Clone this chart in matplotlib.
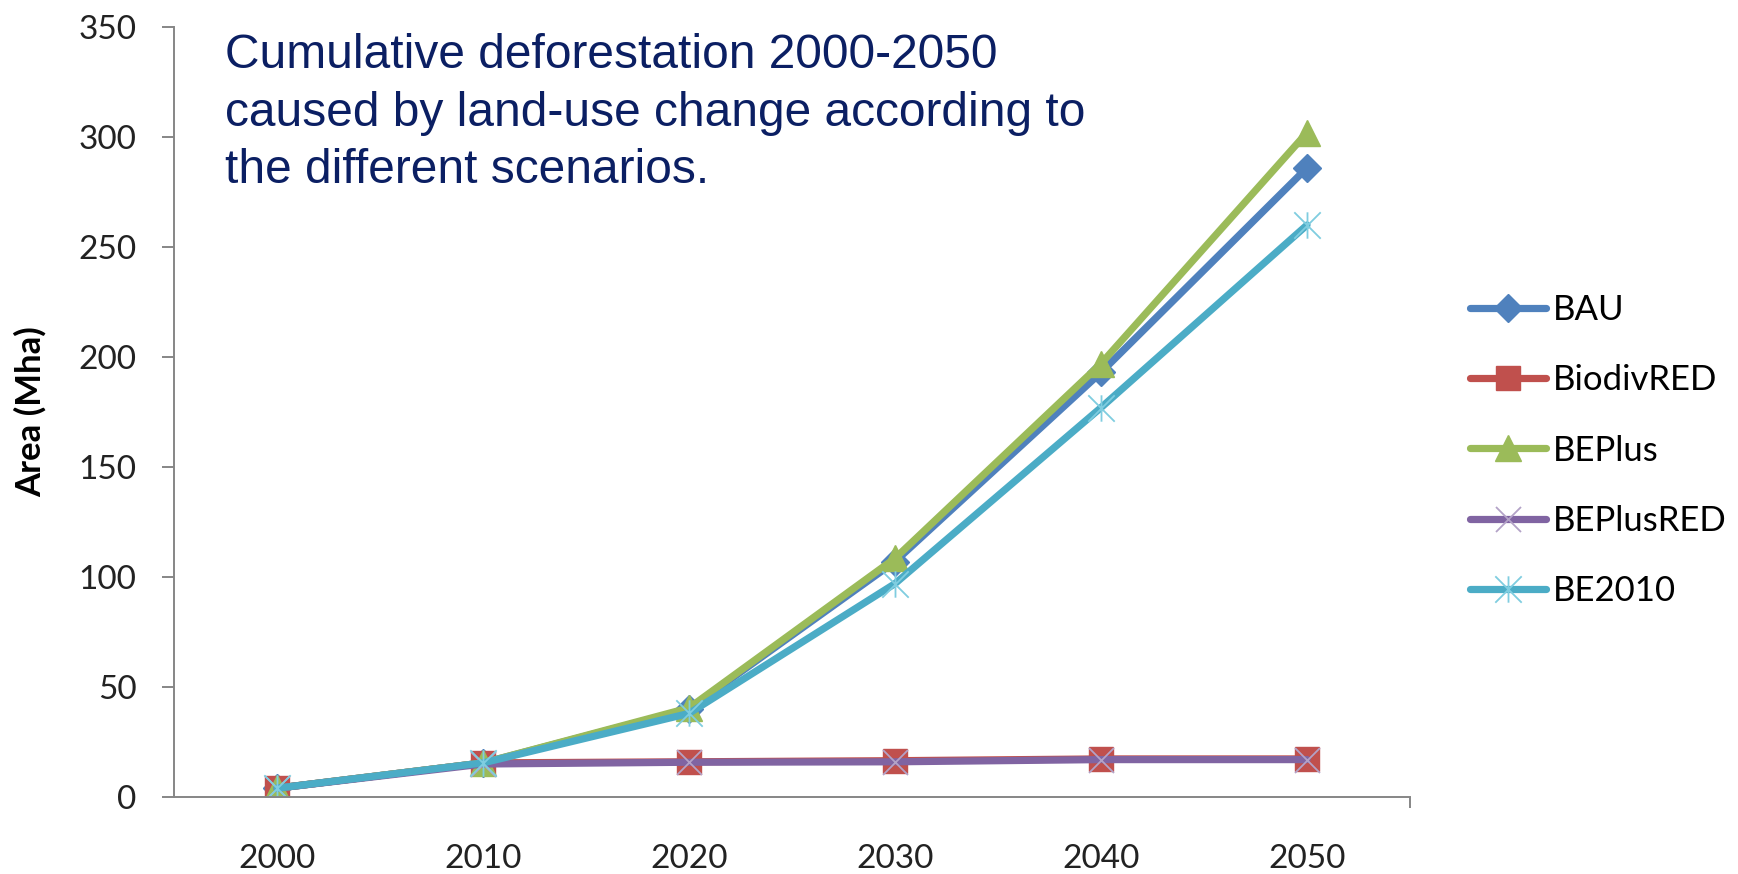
import matplotlib.pyplot as plt
from matplotlib.path import Path

# Cumulative deforestation (Mha) per scenario, 2000-2050
years = ["2000", "2010", "2020", "2030", "2040", "2050"]
bau = [4, 15.5, 40, 107, 193, 286]
biodiv_red = [4, 15.5, 16, 16.5, 17.3, 17.3]
beplus = [4, 15.5, 40.5, 108.5, 197, 302]
beplus_red = [4, 15, 15.8, 16, 17, 17]
be2010 = [4, 15.5, 38, 97, 177, 260]

yticks = [0, 50, 100, 150, 200, 250, 300, 350]

# Excel-style asterisk marker: an X with a vertical bar through it
star = Path([(0, -1), (0, 1), (-1, -1), (1, 1), (-1, 1), (1, -1)],
            [Path.MOVETO, Path.LINETO, Path.MOVETO, Path.LINETO,
             Path.MOVETO, Path.LINETO])

series = [
    ("BAU", bau, dict(color="#4F81BD", marker="D", markersize=14,
                      markeredgecolor="#4F81BD")),
    ("BiodivRED", biodiv_red, dict(color="#C0504D", marker="s", markersize=17,
                                   markeredgecolor="#C0504D")),
    ("BEPlus", beplus, dict(color="#9BBB59", marker="^", markersize=19,
                            markeredgecolor="#9BBB59")),
    ("BEPlusRED", beplus_red, dict(color="#8064A2", marker="x", markersize=18,
                                   markeredgecolor="#B3A2C7", markeredgewidth=1.3)),
    ("BE2010", be2010, dict(color="#4BACC6", marker=star, markersize=19,
                            markeredgecolor="#7FCDE0", markeredgewidth=1.3)),
]

fig = plt.figure(figsize=(17.38, 8.74), dpi=100)
ax = fig.add_axes([0.1001, 0.0881, 0.7112, 0.881])

x = list(range(len(years)))
for name, vals, style in series:
    ax.plot(x, vals, label=name, linewidth=5.2, solid_capstyle="round",
            solid_joinstyle="round", **style)

axis_color = "#868686"
ax.set_xlim(-0.5, 5.5)
ax.set_ylim(0, 350)
for side in ["top", "right"]:
    ax.spines[side].set_visible(False)
for side in ["left", "bottom"]:
    ax.spines[side].set_color(axis_color)
    ax.spines[side].set_linewidth(1.4)

ax.set_yticks(yticks)
ax.tick_params(axis="y", direction="out", length=9, width=1.4, color=axis_color,
               pad=18, labelsize=24)

# labels under each year, tick marks drawn separately
ax.set_xticks(x)
ax.set_xticklabels(years)
ax.tick_params(axis="x", which="major", length=0, pad=34, labelsize=24)
ax.set_xticks([1, 2, 3, 4, 5, 5.5], minor=True)
ax.tick_params(axis="x", which="minor", direction="out", length=8, width=1.4,
               color=axis_color)

for lbl in ax.get_xticklabels() + ax.get_yticklabels():
    lbl.set_family("Lato")
    lbl.set_color("#222222")

ax.set_ylabel("Area (Mha)", fontsize=25, fontweight="bold", family="Lato")
ax.yaxis.set_label_coords(-0.103, 0.5)

fig.text(0.1295, 0.962,
         "Cumulative deforestation 2000-2050\n"
         "caused by land-use change according to\n"
         "the different scenarios.",
         family="Liberation Sans", fontsize=34.5, color="#0B1F63",
         ha="left", va="top", linespacing=1.36)

ax.legend(loc="center left", bbox_to_anchor=(0.8458, 0.4845),
          bbox_transform=fig.transFigure, frameon=False, borderpad=0,
          borderaxespad=0, handlelength=2.2, handletextpad=0.2,
          labelspacing=1.1, prop={"family": "Lato", "size": 25})

fig.savefig("out.png", dpi=100)
